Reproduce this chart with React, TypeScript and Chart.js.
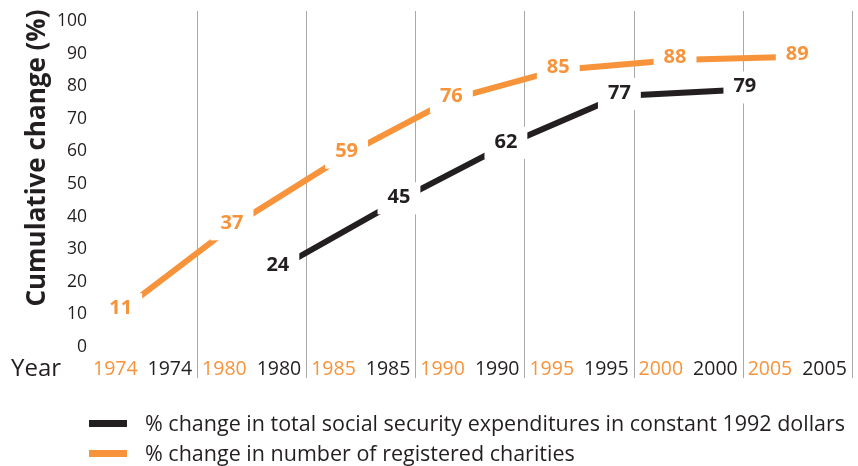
import React, { useEffect, useRef } from "react";
import { Chart, registerables } from "chart.js";

Chart.register(...registerables);

// Year slots along the x axis (each slot shows the year twice: orange, then black)
const yearLabels = ["1974", "1980", "1985", "1990", "1995", "2000", "2005"];

// % change in number of registered charities
const charityValues = [11, 37, 59, 76, 85, 88, 89];
// position of each charity point, in year-slot units
const charitySlot = [0.3, 1.32, 2.37, 3.33, 4.31, 5.38, 6.5];

// % change in total social security expenditures in constant 1992 dollars
const socialValues = [24, 45, 62, 77, 79];
const socialSlot = [1.74, 2.85, 3.83, 4.87, 6.02];

const yTicks = [0, 10, 20, 30, 40, 50, 60, 70, 80, 90, 100];

const socialLabel = "% change in total social security expenditures in constant 1992 dollars";
const charityLabel = "% change in number of registered charities";
const yTitle = "Cumulative change (%)";
const xTitle = "Year";

const ORANGE = "#F7943B";
const DARK = "#231F20";
const GRID = "#A9A9A9";
const FONT = '"Open Sans", "Noto Sans", sans-serif';

const overlayPlugin = {
  id: "overlay",
  beforeDatasetsDraw(chart: any) {
    const { ctx, chartArea } = chart;
    const xs = chart.scales.x;
    ctx.save();
    ctx.strokeStyle = GRID;
    ctx.lineWidth = 1;
    for (let k = 1; k <= yearLabels.length; k++) {
      const x = Math.round(xs.getPixelForValue(k)) + 0.5;
      ctx.beginPath();
      ctx.moveTo(x, chartArea.top - 10);
      ctx.lineTo(x, chartArea.bottom + 31);
      ctx.stroke();
    }
    ctx.restore();
  },
  afterDatasetsDraw(chart: any) {
    const { ctx } = chart;
    ctx.save();
    ctx.font = `bold 20px ${FONT}`;
    ctx.textAlign = "center";
    ctx.textBaseline = "middle";
    chart.data.datasets.forEach((ds: any, di: number) => {
      const meta = chart.getDatasetMeta(di);
      meta.data.forEach((pt: any, i: number) => {
        const text = String(ds.data[i].y);
        const w = ctx.measureText(text).width;
        ctx.fillStyle = "#ffffff";
        ctx.fillRect(pt.x - w / 2 - 10, pt.y - 18, w + 20, 32);
        ctx.fillStyle = ds.borderColor;
        ctx.fillText(text, pt.x, pt.y - 3);
      });
    });
    ctx.restore();
  },
  afterDraw(chart: any) {
    const { ctx, chartArea } = chart;
    ctx.save();
    // y axis title
    ctx.font = `bold 26px ${FONT}`;
    ctx.fillStyle = DARK;
    ctx.textAlign = "center";
    ctx.textBaseline = "middle";
    ctx.translate(38, 158);
    ctx.rotate(-Math.PI / 2);
    ctx.fillText(yTitle, 0, 0);
    ctx.restore();

    ctx.save();
    ctx.font = `24px ${FONT}`;
    ctx.fillStyle = DARK;
    ctx.textAlign = "left";
    ctx.textBaseline = "middle";
    ctx.fillText(xTitle, 11, chartArea.bottom + 22);

    // legend
    ctx.font = `21.5px ${FONT}`;
    chart.data.datasets.forEach((ds: any, i: number) => {
      const y = 423.5 + i * 30;
      ctx.fillStyle = ds.borderColor;
      ctx.fillRect(89, y - 3.5, 38, 7);
      ctx.fillStyle = DARK;
      ctx.fillText(ds.label, 145, y + 1);
    });
    ctx.restore();
  },
};

export default function App() {
  const ref = useRef<HTMLCanvasElement | null>(null);

  useEffect(() => {
    if (!ref.current) return;
    const chart = new Chart(ref.current, {
      type: "line",
      data: {
        datasets: [
          {
            label: socialLabel,
            data: socialSlot.map((x, i) => ({ x, y: socialValues[i] })),
            borderColor: DARK,
            backgroundColor: DARK,
            borderWidth: 6,
            pointRadius: 0,
            tension: 0,
          },
          {
            label: charityLabel,
            data: charitySlot.map((x, i) => ({ x, y: charityValues[i] })),
            borderColor: ORANGE,
            backgroundColor: ORANGE,
            borderWidth: 6,
            pointRadius: 0,
            tension: 0,
          },
        ],
      },
      options: {
        animation: false,
        responsive: false,
        layout: { padding: { top: 21, right: 5, left: 0, bottom: 0 } },
        plugins: {
          legend: { display: false },
          tooltip: { enabled: false },
        },
        scales: {
          x: {
            type: "linear",
            min: 0,
            max: yearLabels.length,
            afterBuildTicks: (scale: any) => {
              const t: any[] = [];
              yearLabels.forEach((_, i) => {
                t.push({ value: i + 0.25 });
                t.push({ value: i + 0.75 });
              });
              scale.ticks = t;
            },
            afterFit: (scale: any) => {
              scale.height = 119;
            },
            grid: { display: false, drawTicks: false },
            border: { display: false },
            ticks: {
              autoSkip: false,
              maxRotation: 0,
              padding: 11,
              font: { family: FONT, size: 19.5 },
              color: (c: any) => (c.index % 2 === 0 ? ORANGE : DARK),
              callback: (_v: any, index: number) => yearLabels[Math.floor(index / 2)],
            },
          },
          y: {
            min: 0,
            max: 100,
            afterBuildTicks: (scale: any) => {
              scale.ticks = yTicks.map((v) => ({ value: v }));
            },
            afterFit: (scale: any) => {
              scale.width = 88;
            },
            grid: { display: false, drawTicks: false },
            border: { display: false },
            ticks: {
              padding: 1,
              font: { family: FONT, size: 17.5 },
              color: DARK,
            },
          },
        },
      },
      plugins: [overlayPlugin],
    } as any);
    return () => chart.destroy();
  }, []);

  return (
    <div style={{ position: "fixed", left: 0, top: 0, width: 858, height: 466, background: "#fff" }}>
      <canvas ref={ref} width={858} height={466} />
    </div>
  );
}
